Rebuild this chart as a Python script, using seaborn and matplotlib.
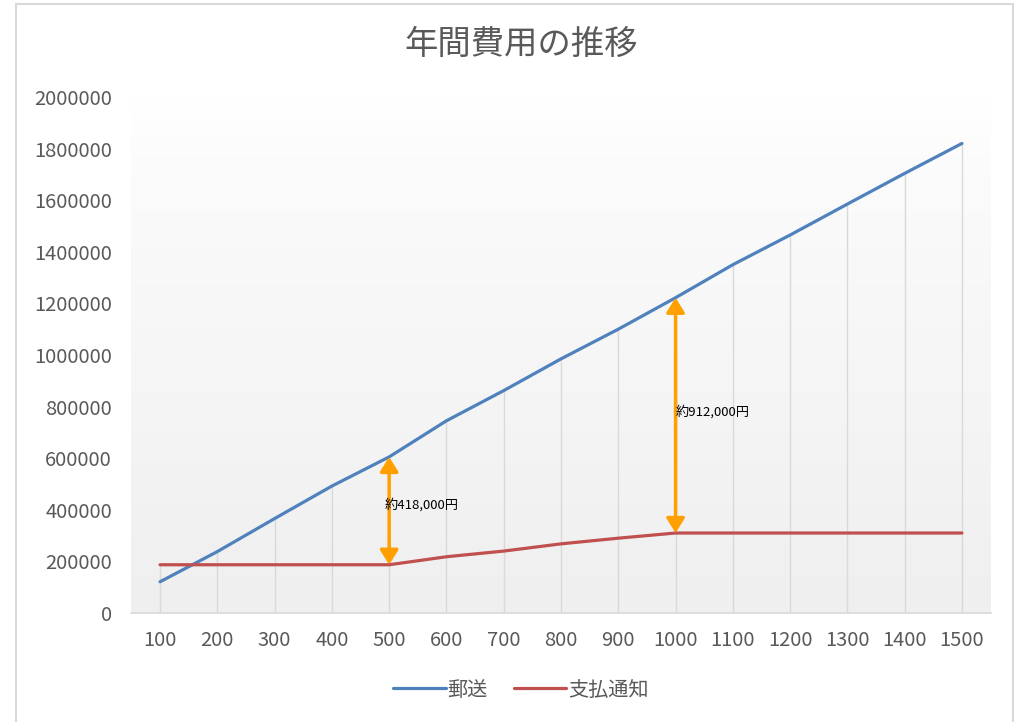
import numpy as np
import pandas as pd
import matplotlib.pyplot as plt
import seaborn as sns
from matplotlib.patches import Rectangle
from matplotlib.colors import LinearSegmentedColormap
from matplotlib.ticker import FuncFormatter

# data
volumes = [100, 200, 300, 400, 500, 600, 700, 800, 900, 1000, 1100, 1200, 1300, 1400, 1500]
yuso = [121000, 238000, 366000, 492000, 605000, 745000, 862000, 985000,
        1100000, 1222000, 1350000, 1465000, 1585000, 1704000, 1820000]
shiharai = [187000, 187000, 187000, 187000, 187000, 218000, 240000, 268000,
            290000, 310000, 310000, 310000, 310000, 310000, 310000]
series_names = ['郵送', '支払通知']
gap_volumes = [500, 1000]
gap_labels = ['約418,000円', '約912,000円']

sns.set_theme(style='white')
plt.rcParams['font.family'] = ['Noto Sans CJK JP', 'DejaVu Sans']

df = pd.DataFrame({
    '件数': [str(v) for v in volumes] * 2,
    '費用': yuso + shiharai,
    '種類': [series_names[0]] * len(volumes) + [series_names[1]] * len(volumes),
})

fig = plt.figure(figsize=(10.19, 7.22), dpi=100)
ax = fig.add_axes([131.4 / 1019, 1 - 613 / 722, (990.6 - 131.4) / 1019, (613 - 97) / 722])

sns.lineplot(data=df, x='件数', y='費用', hue='種類', sort=False,
             palette=['#4F81BD', '#C0504D'], linewidth=2.3, ax=ax, zorder=3)

n = len(volumes)
# plot area gradient fill
cmap = LinearSegmentedColormap.from_list('bg', [(0, '#efefef'), (0.85, '#fbfbfb'), (1, '#ffffff')])
grad = np.linspace(0, 1, 256).reshape(-1, 1)
ax.imshow(grad, extent=[-0.5, n - 0.5, 0, 2000000], origin='lower', aspect='auto',
          cmap=cmap, zorder=0)

# drop lines
ax.vlines(np.arange(n), 0, np.maximum(yuso, shiharai), color='#d9d9d9', lw=1, zorder=1)

ax.set_xlim(-0.5, n - 0.5)
ax.set_ylim(0, 2000000)
ax.set_yticks(np.arange(0, 2000001, 200000))
ax.yaxis.set_major_formatter(FuncFormatter(lambda v, _: f'{int(v)}'))
ax.set_xlabel('')
ax.set_ylabel('')
ax.tick_params(axis='both', length=0, labelsize=14.5, labelcolor='#595959')
ax.tick_params(axis='y', pad=14)
ax.tick_params(axis='x', pad=12)
for side in ['top', 'right', 'left']:
    ax.spines[side].set_visible(False)
ax.spines['bottom'].set_color('#d9d9d9')
ax.spines['bottom'].set_linewidth(1.2)

# gap arrows and labels
text_offsets = [-0.08, 0.0]
text_heights = [418000, 780000]
for v, lab, dx, ty in zip(gap_volumes, gap_labels, text_offsets, text_heights):
    i = volumes.index(v)
    ax.annotate('', xy=(i, yuso[i]), xytext=(i, shiharai[i]),
                arrowprops=dict(arrowstyle='<|-|>,head_length=0.4,head_width=0.25',
                                color='#FFA000', lw=2.5, mutation_scale=22,
                                shrinkA=0, shrinkB=0), zorder=4)
    ax.text(i + dx, ty, lab, ha='left', va='center', fontsize=9.5, color='black', zorder=5)

# legend
handles, labels = ax.get_legend_handles_labels()
ax.legend_.remove()
leg = fig.legend(handles, labels, loc='center', bbox_to_anchor=(521 / 1019, 1 - 690 / 722),
                 ncol=2, frameon=False, fontsize=14.5, handlelength=2.6,
                 handletextpad=0.1, columnspacing=1.3)
for t in leg.get_texts():
    t.set_color('#595959')

fig.text(521 / 1019, 1 - 44 / 722, '年間費用の推移', ha='center', va='center',
         fontsize=24, color='#595959')

# chart frame
fig.patches.append(Rectangle((16 / 1019, -0.01), (1013 - 16) / 1019, 1.01 - 4 / 722,
                             transform=fig.transFigure, fill=False,
                             edgecolor='#d9d9d9', lw=1.5))

fig.savefig('out.png', dpi=100)
